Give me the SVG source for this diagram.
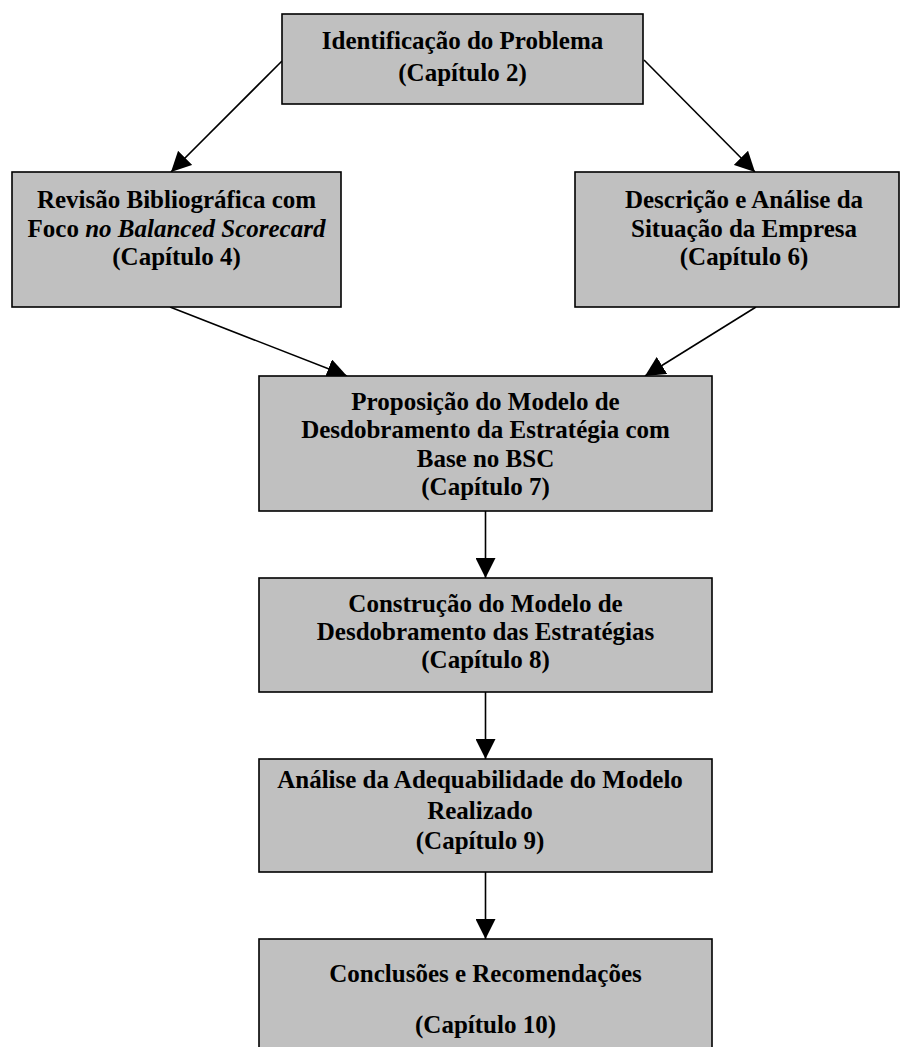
<svg xmlns="http://www.w3.org/2000/svg" width="902" height="1047" viewBox="0 0 902 1047">
<style>
.box{fill:#C0C0C0;stroke:#000;stroke-width:1.6}
.t{font-family:"Liberation Serif","Times New Roman",serif;font-weight:bold;font-size:25px;text-anchor:middle;fill:#000}
.c{stroke:#000;stroke-width:1.6;fill:none;marker-end:url(#ah)}
</style>
<defs>
<marker id="ah" markerUnits="userSpaceOnUse" markerWidth="20" markerHeight="20" refX="20" refY="10" orient="auto">
<path d="M0,0 L20,10 L0,20 z" fill="#000"/>
</marker>
</defs>
<rect width="902" height="1047" fill="#fff"/>
<g id="connectors">
<line class="c" x1="282" y1="61" x2="171" y2="172"/>
<line class="c" x1="644" y1="60" x2="755" y2="172"/>
<line class="c" x1="170" y1="307" x2="347" y2="376"/>
<line class="c" x1="756" y1="307" x2="645" y2="376"/>
<line class="c" x1="485.5" y1="511" x2="485.5" y2="578"/>
<line class="c" x1="485.5" y1="692" x2="485.5" y2="759"/>
<line class="c" x1="485.5" y1="872" x2="485.5" y2="939"/>
</g>
<g id="n1">
<rect class="box" x="282" y="14" width="361" height="90"/>
<text class="t" x="462.5" y="49">Identificação do Problema</text>
<text class="t" x="462.5" y="81">(Capítulo 2)</text>
</g>
<g id="n2">
<rect class="box" x="12" y="172" width="329" height="135"/>
<text class="t" x="176.5" y="208">Revisão Bibliográfica com</text>
<text class="t" x="176.5" y="236.5">Foco <tspan font-style="italic">no Balanced Scorecard</tspan></text>
<text class="t" x="176.5" y="264.5">(Capítulo 4)</text>
</g>
<g id="n3">
<rect class="box" x="575" y="172" width="324" height="135"/>
<text class="t" x="744" y="208">Descrição e Análise da</text>
<text class="t" x="744" y="236.5">Situação da Empresa</text>
<text class="t" x="744" y="264.5">(Capítulo 6)</text>
</g>
<g id="n4">
<rect class="box" x="259" y="376" width="453" height="135"/>
<text class="t" x="485.5" y="409.5">Proposição do Modelo de</text>
<text class="t" x="485.5" y="438">Desdobramento da Estratégia com</text>
<text class="t" x="485.5" y="466.5">Base no BSC</text>
<text class="t" x="485.5" y="494.5">(Capítulo 7)</text>
</g>
<g id="n5">
<rect class="box" x="259" y="578" width="453" height="114"/>
<text class="t" x="485.5" y="611.5">Construção do Modelo de</text>
<text class="t" x="485.5" y="640">Desdobramento das Estratégias</text>
<text class="t" x="485.5" y="668">(Capítulo 8)</text>
</g>
<g id="n6">
<rect class="box" x="259" y="759" width="453" height="113"/>
<text class="t" x="480" y="788">Análise da Adequabilidade do Modelo</text>
<text class="t" x="480" y="819">Realizado</text>
<text class="t" x="480" y="849">(Capítulo 9)</text>
</g>
<g id="n7">
<rect class="box" x="259" y="939" width="453" height="120"/>
<text class="t" x="485.5" y="981.5">Conclusões e Recomendações</text>
<text class="t" x="485.5" y="1033">(Capítulo 10)</text>
</g>
</svg>
